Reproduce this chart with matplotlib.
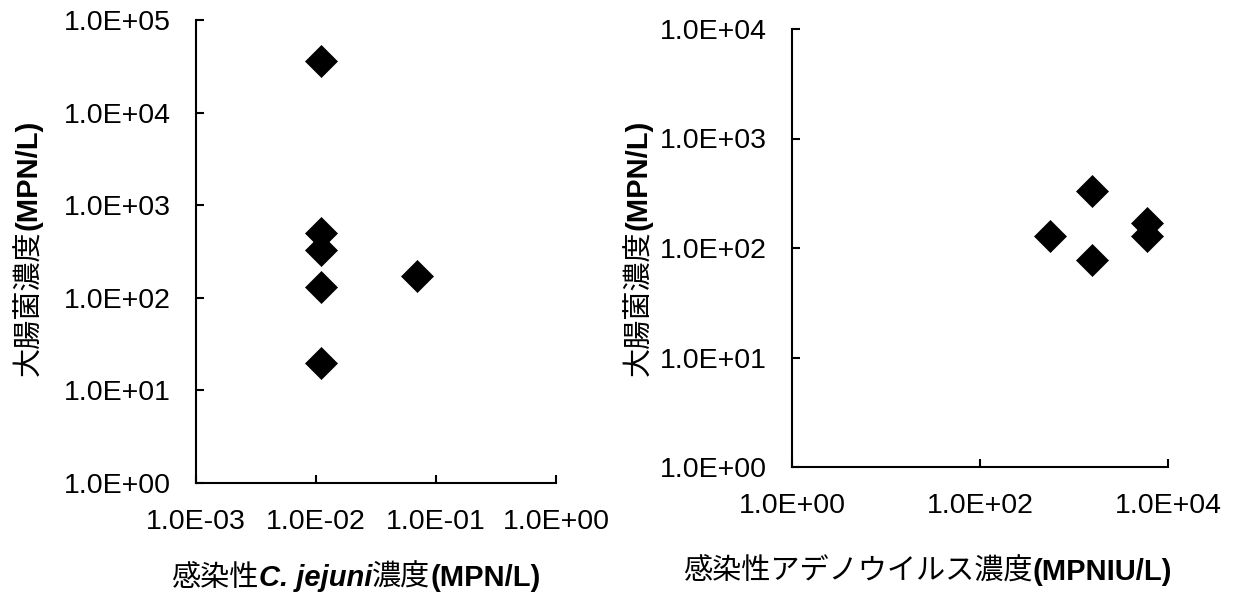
import matplotlib
matplotlib.use('Agg')
import matplotlib.pyplot as plt
from matplotlib.transforms import IdentityTransform

plt.rcParams['font.family'] = ['Liberation Sans', 'Noto Sans CJK JP']

# left panel: infectious C. jejuni vs E. coli
cj_x = [1.1e-2, 1.1e-2, 1.1e-2, 1.1e-2, 1.1e-2, 7.0e-2]
cj_y = [3.6e4, 500, 330, 130, 20, 170]
cj_xticks = [1e-3, 1e-2, 1e-1, 1e0]
cj_xlabels = ['1.0E-03', '1.0E-02', '1.0E-01', '1.0E+00']
cj_yticks = [1e0, 1e1, 1e2, 1e3, 1e4, 1e5]
cj_ylabels = ['1.0E+00', '1.0E+01', '1.0E+02', '1.0E+03', '1.0E+04', '1.0E+05']

# right panel: infectious adenovirus vs E. coli
adv_x = [555, 1540, 1540, 5930, 5930]
adv_y = [130, 330, 78, 170, 130]
adv_xticks = [1e0, 1e2, 1e4]
adv_xlabels = ['1.0E+00', '1.0E+02', '1.0E+04']
adv_yticks = [1e0, 1e1, 1e2, 1e3, 1e4]
adv_ylabels = ['1.0E+00', '1.0E+01', '1.0E+02', '1.0E+03', '1.0E+04']

W, H = 1237, 596
fig = plt.figure(figsize=(W / 100, H / 100), dpi=100)


def make_axes(rect, xs, ys, xticks, xlabels, yticks, ylabels):
    ax = fig.add_axes(rect)
    ax.plot(xs, ys, linestyle='none', marker='D', ms=16, color='black', mew=0.5)
    ax.set_xscale('log')
    ax.set_yscale('log')
    ax.set_xlim(xticks[0], xticks[-1])
    ax.set_ylim(yticks[0], yticks[-1])
    ax.set_xticks(xticks)
    ax.set_xticklabels(xlabels)
    ax.set_yticks(yticks)
    ax.set_yticklabels(ylabels)
    ax.minorticks_off()
    ax.spines['top'].set_visible(False)
    ax.spines['right'].set_visible(False)
    for s in ['left', 'bottom']:
        ax.spines[s].set_linewidth(1.5)
    ax.tick_params(direction='in', length=6, width=1.5, labelsize=20.5)
    ax.tick_params(axis='x', pad=19)
    ax.tick_params(axis='y', pad=18)
    return ax


ax1 = make_axes([196 / W, 113 / H, 360 / W, 463 / H], cj_x, cj_y,
                cj_xticks, cj_xlabels, cj_yticks, cj_ylabels)
ax2 = make_axes([792 / W, 129 / H, 376 / W, 438 / H], adv_x, adv_y,
                adv_xticks, adv_xlabels, adv_yticks, adv_ylabels)


def mixed_label(parts, x, y, rotation=0):
    # lay out text pieces with different styles one after another (pixel coords)
    r = fig.canvas.get_renderer()
    texts = []
    for s, kw in parts:
        t = fig.text(0, 0, s, rotation=rotation, rotation_mode='anchor',
                     ha='left', va='baseline', fontsize=21,
                     transform=IdentityTransform(), **kw)
        texts.append(t)
    sizes = []
    for t in texts:
        bb = t.get_window_extent(r)
        sizes.append(bb.width if rotation == 0 else bb.height)
    pos = -sum(sizes) / 2
    for t, w in zip(texts, sizes):
        if rotation == 0:
            t.set_position((x + pos, y))
        else:
            t.set_position((x, y + pos))
        pos += w


reg = {}
bold = {'fontweight': 'bold'}
bi = {'fontweight': 'bold', 'fontstyle': 'italic'}

ylab = [('大腸菌濃度', reg), ('(MPN/L)', bold)]
mixed_label(ylab, 37, H - 248, rotation=90)
mixed_label(ylab, 647, H - 248, rotation=90)

mixed_label([('感染性', reg), ('C. jejuni', bi), ('濃度', reg), ('(MPN/L)', bold)],
            356, 10)
mixed_label([('感染性アデノウイルス濃度', reg), ('(MPNIU/L)', bold)], 928, 16.5)

fig.savefig('out.png', dpi=100)
